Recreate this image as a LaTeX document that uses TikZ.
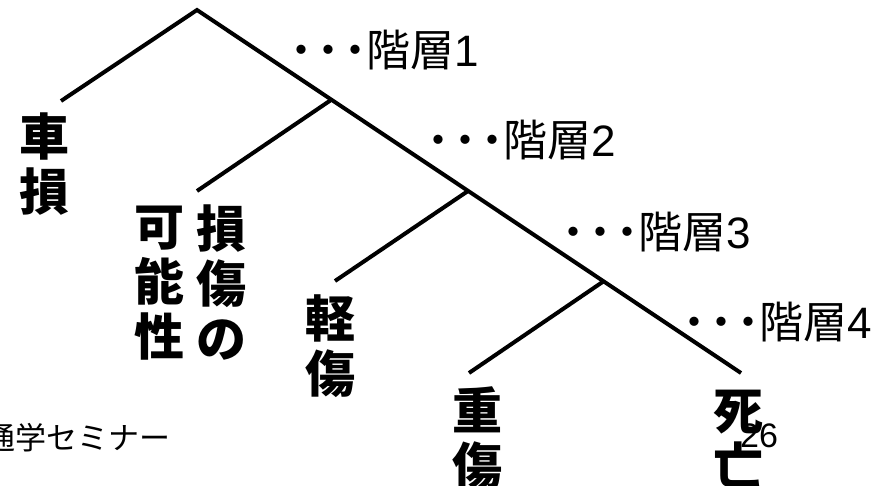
\documentclass[tikz,border=0pt]{standalone}
\usepackage{fontspec}
\newfontfamily\jp{Noto Sans CJK JP}
\newfontfamily\lat{Liberation Sans}
\newcommand{\lvdots}{\textbf{･}\kern5pt\textbf{･}\kern5pt\textbf{･}}
\begin{document}
\begin{tikzpicture}[x=1pt,y=-1pt,
  branch/.style={line width=4pt},
  vlab/.style={inner sep=0pt,align=center,font=\jp\bfseries\fontsize{50}{55}\selectfont},
  lvl/.style={inner sep=0pt,anchor=west,font=\jp\fontsize{44}{48}\selectfont},
  small/.style={inner sep=0pt,font=\jp\fontsize{31}{34}\selectfont}]
\useasboundingbox (0,0) rectangle (883,486);
\clip (0,0) rectangle (883,486);
% tree points
\coordinate (top) at (197,10);
\coordinate (a) at (61,101);
\coordinate (j1) at (331,100);
\coordinate (b) at (197,191);
\coordinate (j2) at (468,191);
\coordinate (c) at (335,281);
\coordinate (j3) at (604,281);
\coordinate (d) at (469,373);
\coordinate (e) at (741,373);
\draw[branch] (a) -- (top) -- (e);
\draw[branch] (b) -- (j1);
\draw[branch] (c) -- (j2);
\draw[branch] (d) -- (j3);
% leaf labels
\node[vlab] (shason) at (44,164) {車\\損};
\node[vlab] (kanou) at (159,283) {可\\能\\性};
\node[vlab] (sonsho) at (221,283) {損\\傷\\の};
\node[vlab] (keisho) at (330,346) {軽\\傷};
\node[vlab] (jusho) at (477,438) {重\\傷};
\node[vlab] (shibo) at (738,439) {死\\亡};
% level labels
\node[lvl] (l1) at (290,50) {\lvdots 階層{\lat 1}};
\node[lvl] (l2) at (427,140) {\lvdots 階層{\lat 2}};
\node[lvl] (l3) at (562,232) {\lvdots 階層{\lat 3}};
\node[lvl] (l4) at (683,322) {\lvdots 階層{\lat 4}};
% footer
\node[inner sep=0pt,font=\lat\fontsize{34}{36}\selectfont] (page) at (759,436) {26};
\node[small,anchor=west] (sem) at (-16,438) {通学セミナー};
\end{tikzpicture}
\end{document}
